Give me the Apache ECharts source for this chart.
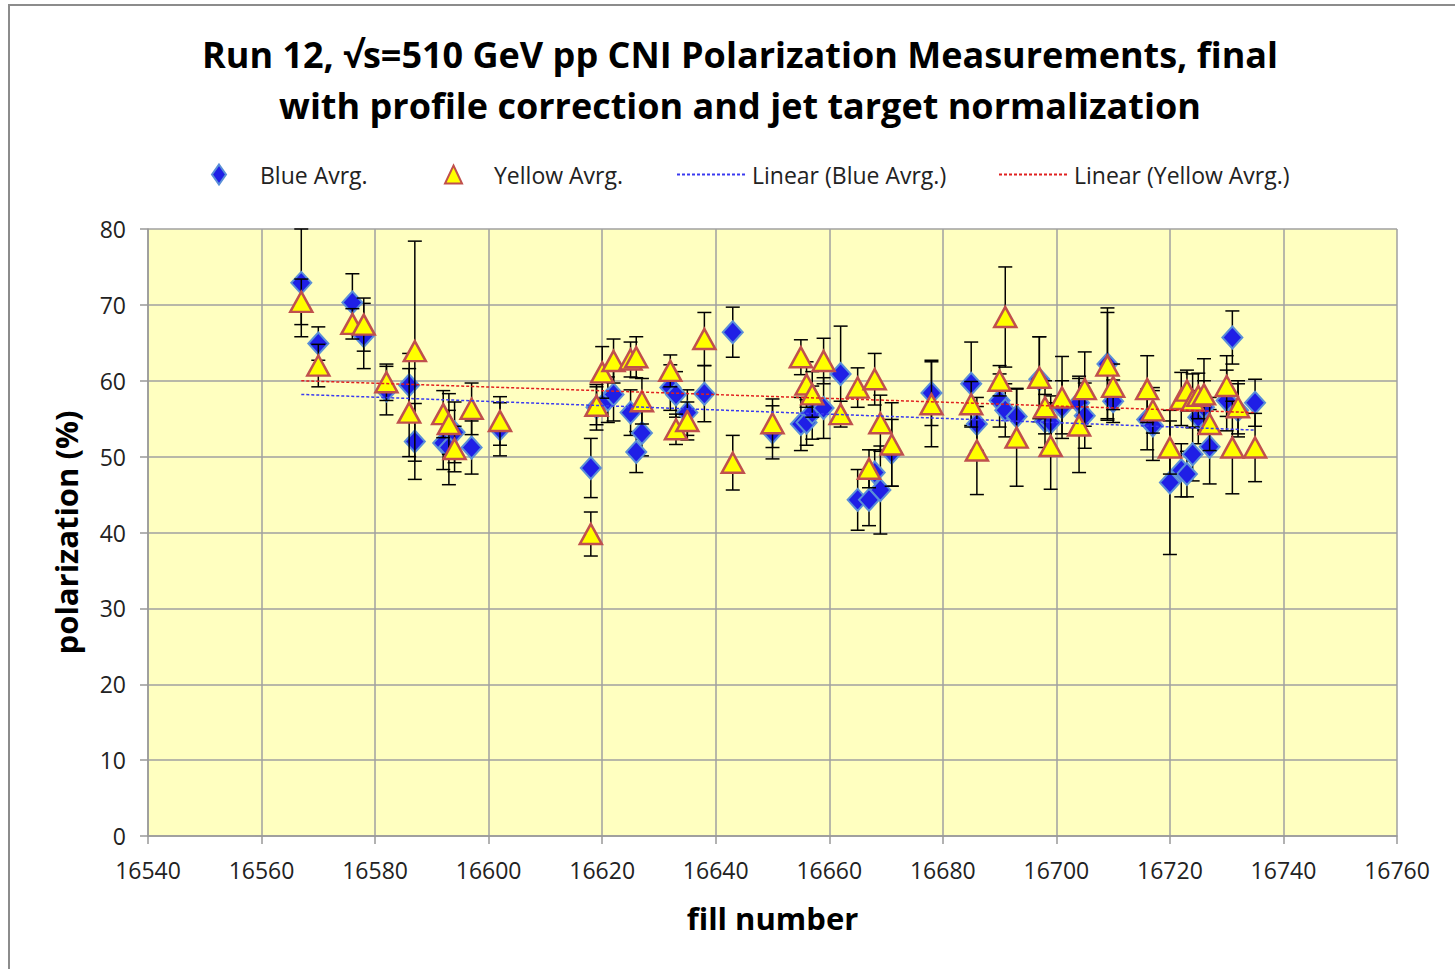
<!DOCTYPE html>
<html>
<head>
<meta charset="utf-8">
<script src="https://cdn.jsdelivr.net/npm/echarts@6/dist/echarts.min.js"></script>
<style>
html,body{margin:0;padding:0;background:#fff;}
#chart{width:1455px;height:969px;}
</style>
</head>
<body>
<div id="chart"></div>
<script>
// ---- data ----
const xTicks = [16540,16560,16580,16600,16620,16640,16660,16680,16700,16720,16740,16760];
const yTicks = [0,10,20,30,40,50,60,70,80];

const blueFill = [16567,16570,16576,16578,16582,16586,16587,16592,16593,16594,16597,16602,16618,16619,16621,16622,16625,16626,16627,16632,16633,16635,16638,16643,16650,16655,16656,16657,16659,16662,16665,16667,16668,16669,16671,16678,16685,16686,16690,16691,16693,16697,16698,16699,16701,16704,16705,16709,16710,16716,16717,16720,16722,16723,16724,16725,16726,16727,16730,16731,16732,16735];
const blueVal = [72.9,64.9,70.3,65.9,58.7,59.4,52.0,51.8,51.2,53.2,51.2,53.6,48.5,56.5,57.5,58.2,55.8,50.6,53.1,59.1,58.2,55.8,58.3,66.4,53.2,54.3,54.5,55.8,56.4,60.9,44.3,44.3,47.9,45.6,50.5,58.4,59.6,54.3,57.4,56.1,55.3,60.2,54.7,54.5,56.5,57.1,55.4,62.2,57.3,54.9,54.1,46.6,48.2,47.7,50.3,55.2,56.5,51.3,57.4,65.7,56.1,57.1];
const blueErr = [7.1,2.2,3.8,4.3,3.2,4.2,5.0,3.5,4.9,4.0,3.5,3.5,3.9,3.0,3.0,3.5,3.0,2.7,3.0,3.0,3.0,3.0,3.7,3.3,3.5,3.5,3.0,3.5,4.0,6.3,4.0,3.4,3.0,5.8,4.4,4.3,5.5,3.5,3.5,3.5,3.7,5.6,3.5,3.5,3.5,3.5,4.3,7.4,2.8,4.0,4.6,9.5,3.5,3.0,3.5,3.5,3.5,4.9,4.0,3.5,3.5,3.1];

const yellowFill = [16567,16570,16576,16578,16582,16586,16587,16592,16593,16594,16597,16602,16618,16619,16620,16622,16625,16626,16627,16632,16633,16635,16638,16643,16650,16655,16656,16657,16659,16662,16665,16667,16668,16669,16671,16678,16685,16686,16690,16691,16693,16697,16698,16699,16701,16704,16705,16709,16710,16716,16717,16720,16722,16723,16724,16725,16726,16727,16730,16731,16732,16735];
const yellowVal = [70.4,62.0,67.5,67.4,59.8,55.8,63.9,55.6,54.3,51.0,56.3,54.7,39.8,56.7,61.1,62.6,62.8,63.1,57.3,61.3,53.6,54.7,65.5,49.2,54.4,63.1,59.5,58.2,62.6,55.6,59.1,48.4,60.2,54.4,51.6,56.9,56.9,50.8,60.0,68.4,52.5,60.4,56.5,51.4,57.8,54.1,58.9,62.0,59.2,58.9,56.1,51.2,57.6,58.7,57.4,58.0,58.2,54.3,59.3,51.2,56.5,51.2];
const yellowErr = [3.0,2.8,2.0,3.5,2.4,5.8,14.5,3.1,4.0,3.0,3.4,3.2,2.9,2.5,3.4,2.9,2.3,2.7,3.0,2.1,2.0,2.5,3.5,3.6,3.2,2.3,3.0,3.0,3.0,1.7,2.6,2.5,3.4,3.7,5.5,5.6,3.0,5.8,2.0,6.6,6.4,5.4,3.5,5.7,5.4,6.2,4.9,7.0,3.0,4.4,3.0,3.5,3.5,2.7,3.5,3.0,4.7,3.5,4.0,6.1,3.5,4.5];

// linear trend lines (end points)
const trendFill = [16567, 16735];
const blueTrend = [58.2, 53.5];
const yellowTrend = [60.0, 55.8];

const titleLines = ['Run 12, \u221As=510 GeV pp CNI Polarization Measurements, final', 'with profile correction and jet target normalization'];
const seriesNames = ['Blue Avrg.', 'Yellow Avrg.', 'Linear (Blue Avrg.)', 'Linear (Yellow Avrg.)'];

// ---- build ----
const FONT = 'Open Sans';
function pts(xs, ys) { return xs.map((x, i) => [x, ys[i]]); }
function errData(xs, ys, es) { return xs.map((x, i) => [x, ys[i] - es[i], ys[i] + es[i]]); }

function errRender(params, api) {
  const x = api.value(0);
  const lo = api.coord([x, api.value(1)]);
  const hi = api.coord([x, api.value(2)]);
  const cap = 7;
  const st = { stroke: '#000', lineWidth: 1.5 };
  return {
    type: 'group',
    children: [
      { type: 'line', shape: { x1: lo[0], y1: lo[1], x2: hi[0], y2: hi[1] }, style: st },
      { type: 'line', shape: { x1: lo[0] - cap, y1: lo[1], x2: lo[0] + cap, y2: lo[1] }, style: st },
      { type: 'line', shape: { x1: hi[0] - cap, y1: hi[1], x2: hi[0] + cap, y2: hi[1] }, style: st }
    ]
  };
}

const chart = echarts.init(document.getElementById('chart'), null, { renderer: 'svg' });

const legendText = { fontFamily: FONT, fontSize: 23, color: '#222' };
const LTOP = 163;

chart.setOption({
  animation: false,
  backgroundColor: '#fff',
  title: {
    text: titleLines.join('\n'),
    left: 735, top: 24, textAlign: 'center',
    textStyle: { fontFamily: FONT, fontSize: 36, fontWeight: 'bold', color: '#000', lineHeight: 51 }
  },
  legend: [
    { data: [seriesNames[0]], left: 211, top: LTOP, padding: 0, itemWidth: 14, itemHeight: 20, textStyle: Object.assign({ padding: [0, 0, 0, 29] }, legendText) },
    { data: [seriesNames[1]], left: 444, top: LTOP, padding: 0, itemWidth: 17, itemHeight: 18, textStyle: Object.assign({ padding: [0, 0, 0, 27] }, legendText) },
    { data: [seriesNames[2]], left: 676, top: LTOP, padding: 0, itemWidth: 70, itemHeight: 20, itemStyle: { opacity: 0 }, textStyle: legendText },
    { data: [seriesNames[3]], left: 998, top: LTOP, padding: 0, itemWidth: 70, itemHeight: 20, itemStyle: { opacity: 0 }, textStyle: legendText }
  ],
  graphic: [
    { type: 'rect', shape: { x: 9, y: 5, width: 1480, height: 1000 }, style: { fill: 'none', stroke: '#8c8c8c', lineWidth: 2 }, silent: true }
  ],
  grid: {
    left: 148, top: 229, width: 1249, height: 607,
    show: true, backgroundColor: '#FFFFC0', borderWidth: 0
  },
  xAxis: {
    type: 'value', min: xTicks[0], max: xTicks[xTicks.length - 1], interval: 20,
    name: 'fill number', nameLocation: 'middle', nameGap: 66,
    nameTextStyle: { fontFamily: FONT, fontSize: 31, fontWeight: 'bold', color: '#000' },
    axisLine: { show: true, lineStyle: { color: '#999', width: 1.5 } },
    axisTick: { show: true, length: 8, lineStyle: { color: '#999', width: 1.5 } },
    axisLabel: { fontFamily: FONT, fontSize: 23, color: '#222', margin: 22, formatter: v => String(v) },
    splitLine: { show: true, lineStyle: { color: '#a0a0a0', width: 1.5 } }
  },
  yAxis: {
    type: 'value', min: yTicks[0], max: yTicks[yTicks.length - 1], interval: 10,
    name: 'polarization (%)', nameLocation: 'middle', nameGap: 67, nameRotate: 90,
    nameTextStyle: { fontFamily: FONT, fontSize: 31, fontWeight: 'bold', color: '#000' },
    axisLine: { show: true, lineStyle: { color: '#999', width: 1.5 } },
    axisTick: { show: true, length: 8, lineStyle: { color: '#999', width: 1.5 } },
    axisLabel: { fontFamily: FONT, fontSize: 23, color: '#222', margin: 22 },
    splitLine: { show: true, lineStyle: { color: '#a0a0a0', width: 1.5 } }
  },
  series: [
    { name: 'blueErr', type: 'custom', renderItem: errRender, data: errData(blueFill, blueVal, blueErr), z: 2, silent: true },
    { name: seriesNames[0], type: 'scatter', data: pts(blueFill, blueVal), symbol: 'diamond', symbolSize: [20, 22], z: 3,
      itemStyle: { color: '#1F1FE6', borderColor: '#5A8FD8', borderWidth: 2, opacity: 1 } },
    { name: 'yellowErr', type: 'custom', renderItem: errRender, data: errData(yellowFill, yellowVal, yellowErr), z: 4, silent: true },
    { name: seriesNames[1], type: 'scatter', data: pts(yellowFill, yellowVal), symbol: 'triangle', symbolSize: [22, 20], z: 5,
      itemStyle: { color: '#FFFF00', borderColor: '#C0504D', borderWidth: 2.5, opacity: 1 } },
    { name: seriesNames[2], type: 'line', data: pts(trendFill, blueTrend), symbol: 'none', z: 6,
      itemStyle: { color: '#3A3AF0' },
      lineStyle: { color: '#3A3AF0', width: 1.5, type: [3, 2] } },
    { name: seriesNames[3], type: 'line', data: pts(trendFill, yellowTrend), symbol: 'none', z: 6,
      itemStyle: { color: '#E02020' },
      lineStyle: { color: '#E02020', width: 1.5, type: [3, 2] } }
  ]
});
</script>
</body>
</html>
